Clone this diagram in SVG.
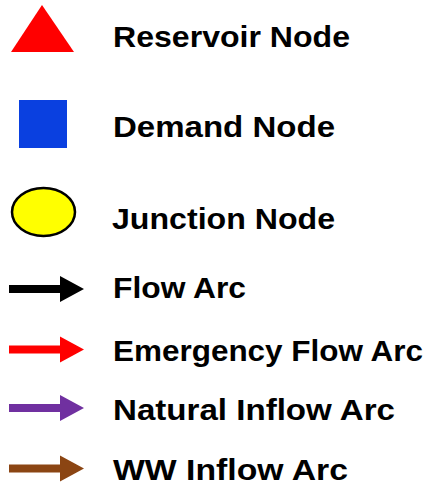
<svg xmlns="http://www.w3.org/2000/svg" width="431" height="486" viewBox="0 0 431 486">
  <style>
    .lbl { font-family: "Liberation Sans", Arial, sans-serif; font-weight: bold; font-size: 30px; fill: #000; }
  </style>
  <defs>
    <!-- block arrow: shaft 9..60 (8px thick), head 60..84 -->
    <polygon id="arrow" points="9,-4 60,-4 60,-13 84,0 60,13 60,4 9,4"/>
  </defs>
  <rect width="431" height="486" fill="#fff"/>

  <g id="reservoir-node">
    <polygon points="42,5 74,52 11,52" fill="#FF0000"/>
    <text class="lbl" x="113" y="47" textLength="237" lengthAdjust="spacingAndGlyphs">Reservoir Node</text>
  </g>

  <g id="demand-node">
    <rect x="19" y="100" width="48" height="48" fill="#0A40E0"/>
    <text class="lbl" x="113" y="137" textLength="222" lengthAdjust="spacingAndGlyphs">Demand Node</text>
  </g>

  <g id="junction-node">
    <ellipse cx="43.5" cy="212" rx="31.5" ry="24" fill="#FFFF00" stroke="#000" stroke-width="2.5"/>
    <text class="lbl" x="112" y="229" textLength="223" lengthAdjust="spacingAndGlyphs">Junction Node</text>
  </g>

  <g id="connectors">
    <g id="flow-arc">
      <use href="#arrow" y="289" fill="#000"/>
      <text class="lbl" x="113" y="298" textLength="133" lengthAdjust="spacingAndGlyphs">Flow Arc</text>
    </g>
    <g id="emergency-flow-arc">
      <use href="#arrow" y="349.5" fill="#FF0000"/>
      <text class="lbl" x="113" y="361" textLength="310" lengthAdjust="spacingAndGlyphs">Emergency Flow Arc</text>
    </g>
    <g id="natural-inflow-arc">
      <use href="#arrow" y="408" fill="#7030A0"/>
      <text class="lbl" x="113" y="420" textLength="282" lengthAdjust="spacingAndGlyphs">Natural Inflow Arc</text>
    </g>
    <g id="ww-inflow-arc">
      <use href="#arrow" y="468.5" fill="#8B4513"/>
      <text class="lbl" x="113" y="480" textLength="235" lengthAdjust="spacingAndGlyphs">WW Inflow Arc</text>
    </g>
  </g>
</svg>
